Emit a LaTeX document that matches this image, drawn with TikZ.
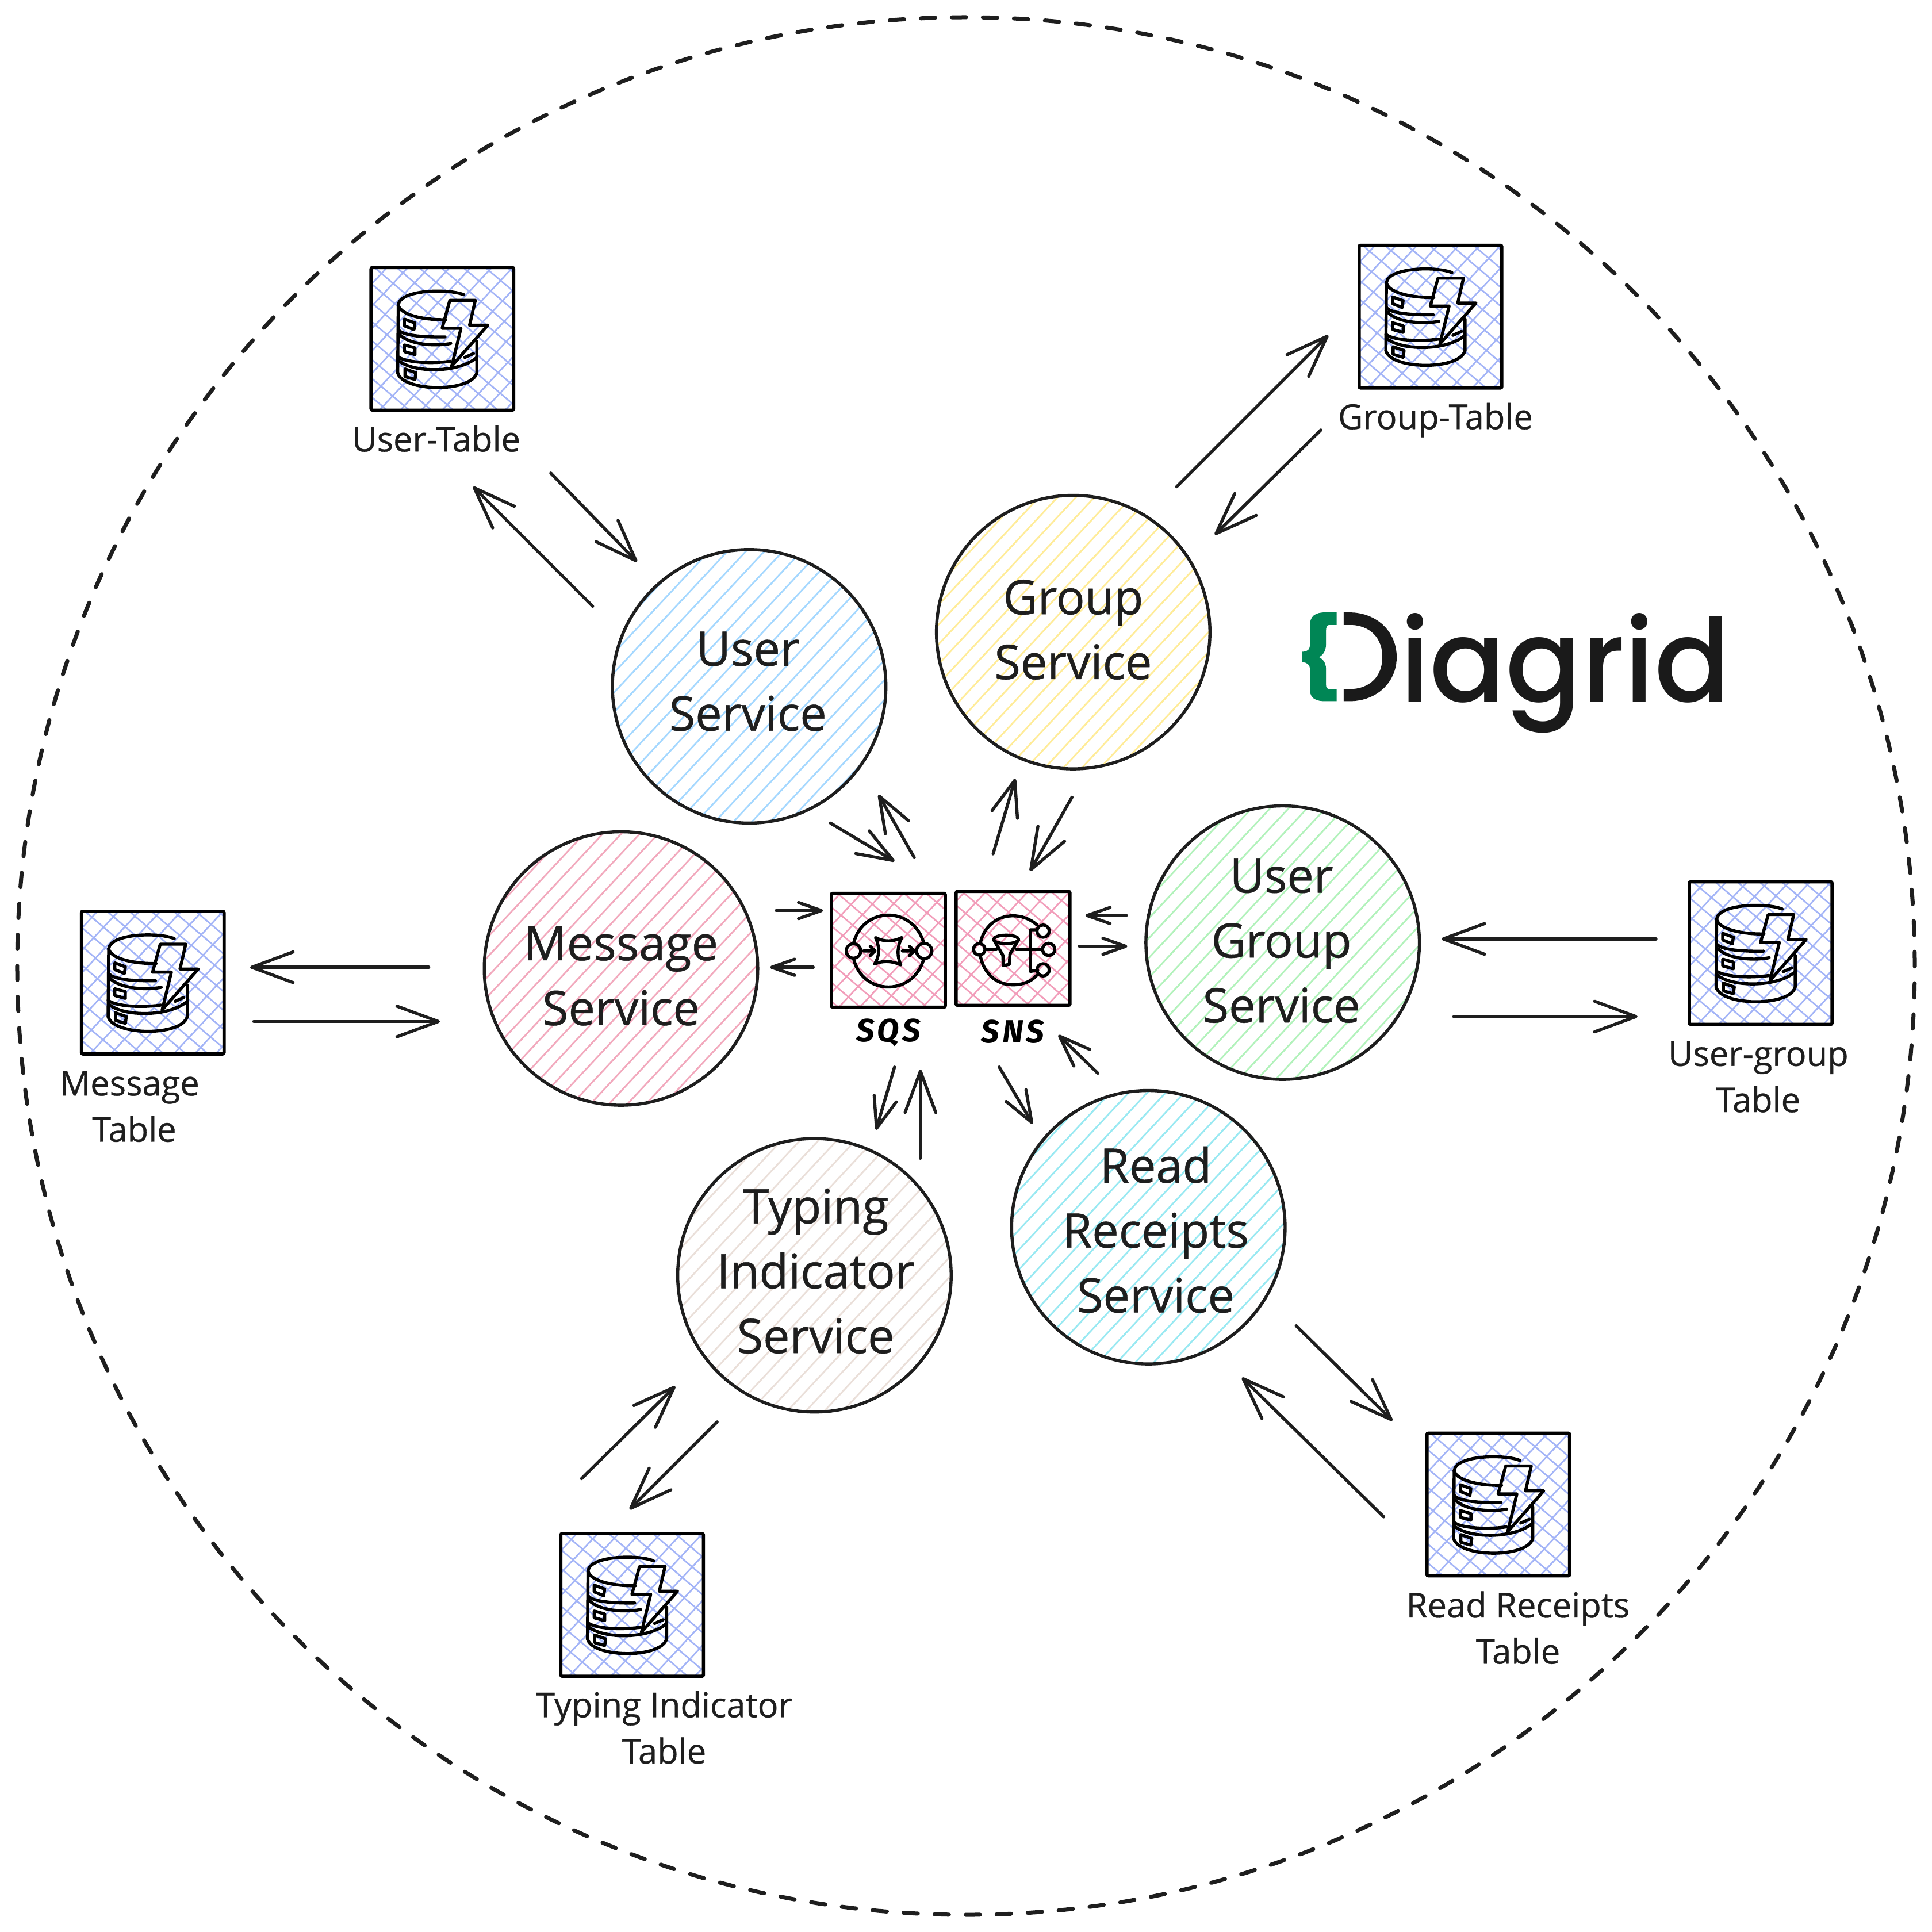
\documentclass[tikz,border=0pt]{standalone}
\usepackage{fontspec}
\setmainfont{Open Sans}[FakeBold=0.6]
\newfontfamily\logofont{Poppins}[UprightFont=* Medium,FakeStretch=0.975]
\newfontfamily\handfont{Fira Sans}[UprightFont=* Bold Italic,LetterSpace=9]
\usetikzlibrary{arrows.meta,calc}
\definecolor{ink}{HTML}{1E1E1E}
\definecolor{hblue}{HTML}{A5D8FF}
\definecolor{hyellow}{HTML}{FFEC99}
\definecolor{hred}{HTML}{F2A9BD}
\definecolor{hgreen}{HTML}{B2F2BB}
\definecolor{hcyan}{HTML}{99E9F2}
\definecolor{hstone}{HTML}{EADFD9}
\definecolor{hindigo}{HTML}{A3B4F7}
\definecolor{hpink}{HTML}{F29DBA}
\definecolor{logogreen}{HTML}{008655}
\definecolor{logoink}{HTML}{1A1A1A}
\newcommand\hachureup[2]{%
  \begin{scope}[shift={(path picture bounding box.center)}]
    \foreach \k in {-12,...,12}{\draw[#1,line width=.72pt] ({\k*15-200+#2},214) -- ({\k*15+200+#2},-214);}
  \end{scope}}
\newcommand\hachurecross[1]{%
  \begin{scope}[shift={(path picture bounding box.center)}]
    \foreach \k in {-8,...,8}{%
      \draw[#1,line width=.68pt] ({\k*17-100+3},107) -- ({\k*17+100+3},-107);
      \draw[#1,line width=.68pt] ({\k*18-100-5},-85) -- ({\k*18+100-5},85);}
  \end{scope}}
\tikzset{
  x=0.5357pt,y=-0.5357pt,
  svc/.style 2 args={circle,draw=ink,line width=1.35pt,minimum size=118.9pt,inner sep=0pt,
    path picture={\hachureup{#1}{#2}}},
  dbbox/.style={rectangle,draw=black,line width=1.4pt,minimum size=62pt,inner sep=0pt,rounded corners=.6pt,
    path picture={\hachurecross{hindigo}}},
  msgbox/.style={rectangle,draw=black,line width=1.4pt,minimum size=49.5pt,inner sep=0pt,rounded corners=.6pt,
    path picture={\hachurecross{hpink}}},
  svctext/.style={text=ink,font=\fontsize{20.7}{28.2}\selectfont,align=center,inner sep=0pt},
  tabletext/.style={text=ink,font=\fontsize{14.9}{20.1}\selectfont,align=center,inner sep=0pt},
  handtext/.style={text=black,font=\handfont\fontsize{14}{16}\selectfont,inner sep=0pt},
  conn/.style={draw=ink,line width=1.35pt,line cap=round},
  bigflow/.style={conn,-{Straight Barb[length=18pt,width=13.3pt,line width=1.35pt,round]}},
  midflow/.style={conn,-{Straight Barb[length=15.5pt,width=11.5pt,line width=1.35pt,round]}},
  lowflow/.style={conn,-{Straight Barb[length=13.5pt,width=10pt,line width=1.35pt,round]}},
  smallflow/.style={conn,-{Straight Barb[length=10pt,width=7pt,line width=1.35pt,round]}},
  iconline/.style={draw=black,line width=1.35pt,line cap=round,line join=round},
  dbicon/.pic={
    \begin{scope}[scale=0.15556,shift={(-448,-448)},iconline]
      \draw (560,218) .. controls (480,185) and (230,190) .. (218,270) .. controls (225,320) and (340,350) .. (465,348);
      \draw (218,270) -- (215,625);
      \draw (218,400) .. controls (240,430) and (340,440) .. (462,438);
      \draw (225,425) .. controls (270,475) and (400,490) .. (492,472);
      \draw (215,540) .. controls (250,570) and (380,580) .. (490,565);
      \draw (218,560) .. controls (290,625) and (530,630) .. (628,545);
      \draw (215,625) .. controls (240,725) and (600,730) .. (628,625) -- (628,460);
      \draw (565,545) -- (610,525);
      \draw (250,345) -- (305,365) -- (300,400) -- (250,380) -- cycle;
      \draw (250,480) -- (305,495) -- (305,530) -- (250,515) -- cycle;
      \draw (253,605) -- (310,625) -- (305,660) -- (253,645) -- cycle;
      \draw (487,247) -- (620,247) -- (590,377) -- (685,377) -- (497,590) -- (545,393) -- (447,393) -- cycle;
    \end{scope}},
  sqsicon/.pic={
    \begin{scope}[scale=0.15556,shift={(-375,-367)},iconline]
      \draw (193,334) .. controls (215,240) and (290,185) .. (375,185) .. controls (460,185) and (535,240) .. (560,332);
      \draw (193,410) .. controls (215,505) and (290,560) .. (375,560) .. controls (460,560) and (535,505) .. (560,412);
      \draw (193,372) circle [radius=38];
      \draw (562,372) circle [radius=40];
      \draw (245,372) -- (305,372) (280,348) -- (305,372) -- (280,396);
      \draw (448,372) -- (510,372) (485,348) -- (510,372) -- (485,396);
      \draw (308,302) .. controls (350,325) and (400,325) .. (445,302) .. controls (420,350) and (420,400) .. (440,445)
        .. controls (400,425) and (350,420) .. (303,440) .. controls (330,400) and (330,350) .. (308,302) -- cycle;
    \end{scope}},
  snsicon/.pic={
    \begin{scope}[scale=0.15556,shift={(-1020,-357)},iconline]
      \draw (1145,232) .. controls (1110,200) and (1065,185) .. (1020,185) .. controls (930,185) and (865,250) .. (850,330);
      \draw (850,390) .. controls (865,480) and (930,545) .. (1020,545) .. controls (1070,545) and (1115,530) .. (1145,495);
      \draw (845,360) circle [radius=30];
      \draw (1178,265) circle [radius=32];
      \draw (1207,360) circle [radius=32];
      \draw (1178,467) circle [radius=32];
      \draw (880,360) -- (935,360) (1038,360) -- (1175,360);
      \draw (1145,258) -- (1112,258) -- (1112,475) -- (1150,470);
      \draw (985,308) ellipse [x radius=65,y radius=22];
      \draw (920,310) -- (968,390) -- (970,445) -- (1002,438) -- (1005,385) -- (1050,310);
    \end{scope}},
}
% flow arrow between two named free ends
\newcommand\flow[4]{%
  \coordinate (#1s) at (#3);
  \coordinate (#1e) at (#4);
  \draw[#2] (#1s) -- (#1e);}
\begin{document}
\begin{tikzpicture}
\useasboundingbox[fill=white] (0,0) rectangle (1568,1568);
\node[circle,draw=ink,dash pattern=on 6.2pt off 7.3pt,line cap=round,line width=1.75pt,minimum size=825pt,inner sep=0pt] (boundary) at (784,784) {};

% services
\node[svc={hblue}{0}] (user) at (608,557) {};
\node[svc={hyellow}{5}] (group) at (871,513) {};
\node[svc={hred}{3}] (message) at (504,786) {};
\node[svc={hgreen}{8}] (usergroup) at (1041,765) {};
\node[svc={hcyan}{2}] (read) at (932,996) {};
\node[svc={hstone}{6}] (typing) at (661,1035) {};
\node[svctext] (usertxt) at (607,553) {User\\Service};
\node[svctext] (grouptxt) at (871,511) {Group\\Service};
\node[svctext] (messagetxt) at (504,792) {Message\\Service};
\node[svctext] (usergrouptxt) at (1040,763.5) {User\\Group\\Service};
\node[svctext] (readtxt) at (938,998) {Read\\Receipts\\Service};
\node[svctext] (typingtxt) at (662,1031.5) {Typing\\Indicator\\Service};

% tables
\node[dbbox] (usertable) at (359,275) {}; \pic at (359,275) {dbicon};
\node[dbbox] (grouptable) at (1161,257) {}; \pic at (1161,257) {dbicon};
\node[dbbox] (messagetable) at (124,797.5) {}; \pic at (124,797.5) {dbicon};
\node[dbbox] (usergrouptable) at (1429,773.5) {}; \pic at (1429,773.5) {dbicon};
\node[dbbox] (readtable) at (1216,1221) {}; \pic at (1216,1221) {dbicon};
\node[dbbox] (typingtable) at (513,1302.5) {}; \pic at (513,1302.5) {dbicon};
\node[tabletext] (usertabletxt) at (354,356) {User-Table};
\node[tabletext] (grouptabletxt) at (1165,341) {Group-Table};
\node[tabletext] (messagetabletxt) at (107,898) {Message\hspace*{2.1pt}\\\hspace*{2.1pt}Table};
\node[tabletext] (usergrouptabletxt) at (1427,874) {User-group\\Table};
\node[tabletext] (readtabletxt) at (1232,1321) {Read Receipts\\Table};
\node[tabletext] (typingtabletxt) at (539,1402) {Typing Indicator\\Table};

% queues
\node[msgbox] (sqs) at (721,771.2) {}; \pic at (721,771) {sqsicon};
\node[msgbox] (sns) at (822.2,769.7) {}; \pic at (822,770) {snsicon};
\node[handtext] (sqstxt) at (721,838) {SQS};
\node[handtext] (snstxt) at (822,837) {SNS};

% long arrows
\flow{a}{bigflow}{447,384}{517,456}
\flow{b}{bigflow}{481,492}{384,395}
\flow{c}{bigflow}{955,395}{1078,272}
\flow{d}{bigflow}{1072,349}{986,434}
\flow{e}{bigflow}{348,785}{203,785}
\flow{f}{bigflow}{206,829}{357,829}
\flow{g}{bigflow}{1344,762}{1170,762}
\flow{h}{bigflow}{1180,825}{1329,825}
\flow{i}{bigflow}{1052,1076}{1130,1153}
\flow{j}{bigflow}{1123,1231}{1008,1118}
\flow{k}{bigflow}{472,1200}{548,1125}
\flow{l}{bigflow}{582,1154}{511,1225}
% short arrows
\flow{m}{midflow}{674,668}{726,699}
\flow{n}{midflow}{742,696}{713,645}
\flow{o}{midflow}{806,693}{824,632}
\flow{p}{bigflow}{870,647}{836,707}
\flow{q}{smallflow}{630,739}{668,739}
\flow{r}{smallflow}{660,785}{625,785}
\flow{s}{smallflow}{914,743}{881,743}
\flow{t}{smallflow}{876,768}{915,768}
\flow{u}{lowflow}{811,866}{838,912}
\flow{v}{lowflow}{891,871}{859,840}
\flow{w}{lowflow}{726,866}{711,917}
\flow{x}{bigflow}{747,940}{747,868}

% logo
\begin{scope}[shift={(1045.3,480.7)},xscale=0.2322,yscale=0.15556]
  \fill[logogreen] (170,105) -- (130,105) .. controls (95,105) and (77,125) .. (77,170) -- (77,270) .. controls (77,300) and (68,310) .. (50,310)
    -- (50,365) .. controls (68,365) and (77,378) .. (77,405) -- (77,510) .. controls (77,550) and (95,568) .. (130,568) -- (170,568) -- (170,505) -- (145,505)
    .. controls (137,505) and (133,497) .. (133,480) -- (133,400) .. controls (133,370) and (123,348) .. (108,338) .. controls (123,328) and (133,305) .. (133,270)
    -- (133,200) .. controls (133,180) and (137,170) .. (145,170) -- (170,170) -- cycle;
  \fill[logoink] (195,105) -- (215,105) .. controls (310,105) and (380,205) .. (380,338) .. controls (380,470) and (310,568) .. (215,568) -- (195,568) -- (195,505)
    -- (215,505) .. controls (285,505) and (330,440) .. (330,338) .. controls (330,235) and (285,170) .. (215,170) -- (195,170) -- cycle;
\end{scope}
\node[text=logoink,font=\logofont\fontsize{50}{50}\selectfont,anchor=base west,inner sep=0pt] (logotxt) at (1136,569.5) {iagrid};
\end{tikzpicture}
\end{document}
